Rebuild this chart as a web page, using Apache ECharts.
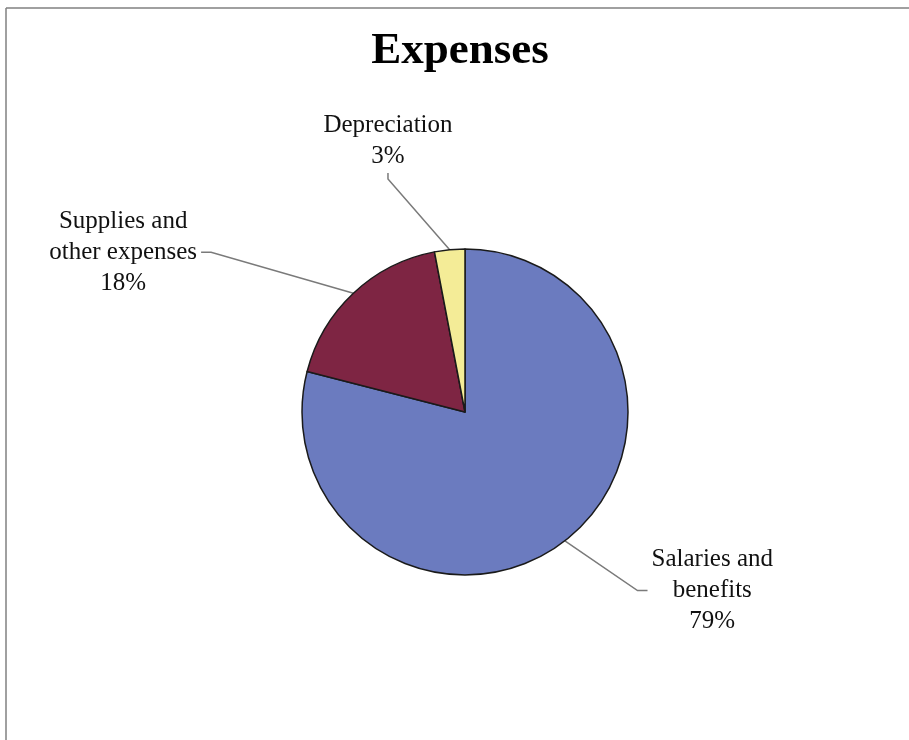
<!DOCTYPE html>
<html>
<head>
<meta charset="utf-8">
<script src="https://cdn.jsdelivr.net/npm/echarts@6/dist/echarts.min.js"></script>
<style>
html,body{margin:0;padding:0;background:#fff;}
#chart{width:909px;height:740px;}
</style>
</head>
<body>
<div id="chart"></div>
<script>
const chartTitle = 'Expenses';
const categories = ['Salaries and\nbenefits', 'Supplies and\nother expenses', 'Depreciation'];
const values = [79, 18, 3];
const sliceColors = ['#6b7bbf', '#7e2543', '#f4ec97'];
const lineCfg = [
  { length: 63, length2: 44 },
  { length: 56, length2: 114 },
  { length: 71, length2: 55 }
];

const chart = echarts.init(document.getElementById('chart'));
const font = '"Liberation Serif", "Times New Roman", serif';

const option = {
  backgroundColor: '#fff',
  animation: false,
  title: {
    text: chartTitle,
    left: 455,
    textAlign: 'center',
    top: 24,
    textStyle: { fontFamily: font, fontSize: 45, fontWeight: 'bold', color: '#000' }
  },
  graphic: [
    { type: 'line', shape: { x1: 6, y1: 8, x2: 909, y2: 8 }, style: { stroke: '#808080', lineWidth: 1.5 } },
    { type: 'line', shape: { x1: 6, y1: 8, x2: 6, y2: 740 }, style: { stroke: '#808080', lineWidth: 1.5 } }
  ],
  series: [{
    type: 'pie',
    center: [465, 412],
    radius: 163,
    startAngle: 90,
    clockwise: true,
    avoidLabelOverlap: false,
    itemStyle: { borderColor: '#1a1a1a', borderWidth: 1.5 },
    label: {
      show: true,
      position: 'outside',
      formatter: '{b}\n{d}%',
      fontFamily: font,
      fontSize: 25,
      lineHeight: 31,
      color: '#111'
    },
    labelLine: {
      show: true,
      minTurnAngle: 0,
      maxSurfaceAngle: 180,
      lineStyle: { color: '#7a7a7a', width: 1.5 }
    },
    labelLayout: function (p) {
      const pts = p.labelLinePoints;
      if (!pts) return {};
      const e = pts[2];
      const w = p.labelRect.width, h = p.labelRect.height;
      if (p.dataIndex === 2) {
        return {
          x: e[0], y: e[1] - 7 - h / 2, align: 'center', verticalAlign: 'middle',
          labelLinePoints: [pts[0], e, [e[0], e[1] - 6]]
        };
      }
      const s = e[0] > pts[0][0] ? 1 : -1;
      return {
        x: e[0] + s * (4 + w / 2), y: e[1], align: 'center', verticalAlign: 'middle',
        labelLinePoints: [pts[0], [e[0] - s * 10, e[1]], e]
      };
    },
    data: categories.map((c, i) => ({
      name: c,
      value: values[i],
      itemStyle: { color: sliceColors[i] },
      labelLine: lineCfg[i]
    }))
  }]
};
chart.setOption(option);
</script>
</body>
</html>
